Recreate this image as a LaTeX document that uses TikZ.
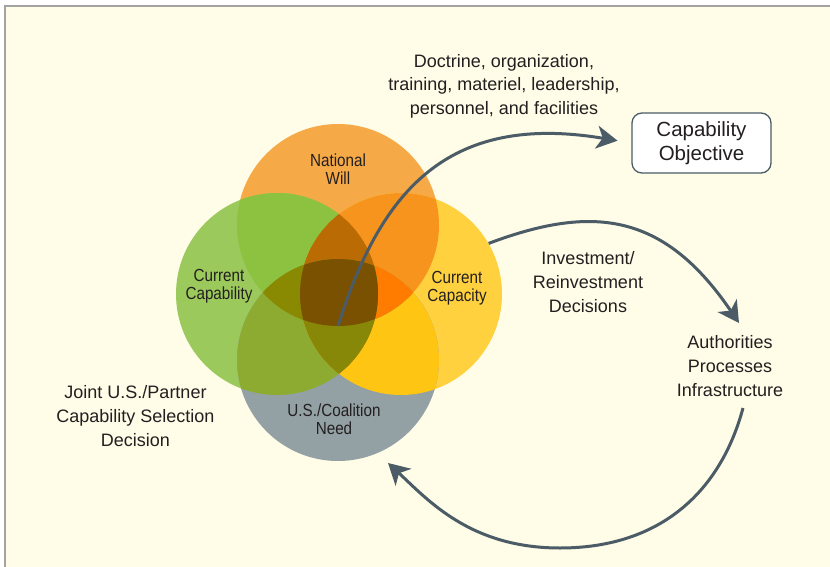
\documentclass[tikz,border=0pt]{standalone}
\usepackage{fontspec}
\setmainfont{Liberation Sans}
\newfontfamily\condfont[FakeStretch=0.87]{Liberation Sans}
\usetikzlibrary{arrows.meta}
\definecolor{bgc}{HTML}{FFFCE8}
\definecolor{bordc}{HTML}{A3A3A3}
\definecolor{arrc}{HTML}{4B5C66}
\definecolor{txtc}{HTML}{231F20}
\definecolor{cT}{HTML}{F6A947}
\definecolor{cL}{HTML}{9CC95B}
\definecolor{cR}{HTML}{FFD13F}
\definecolor{cB}{HTML}{93A1A4}
\definecolor{cTL}{HTML}{8CC23F}
\definecolor{cTR}{HTML}{F7941E}
\definecolor{cLB}{HTML}{8DAB31}
\definecolor{cRB}{HTML}{FFC513}
\definecolor{cLR}{HTML}{B06A05}
\definecolor{cTB}{HTML}{9A7A20}
\definecolor{cTLR}{HTML}{BA6B04}
\definecolor{cTRB}{HTML}{FF7C00}
\definecolor{cTLB}{HTML}{8A8A02}
\definecolor{cLRB}{HTML}{878807}
\definecolor{cAll}{HTML}{7A5100}
\begin{document}
\begin{tikzpicture}[x=1pt,y=-1pt,
  txt/.style={text=txtc, align=center, font=\fontsize{18}{23.6}\selectfont, inner sep=0pt},
  clabel/.style={text=txtc, align=center, font=\condfont\fontsize{17.5}{18.2}\selectfont, inner sep=0pt},
  venn/.style={circle, minimum size=202pt, inner sep=0pt, draw=none},
  arr/.style={draw=arrc, line width=3pt, -{Stealth[length=21pt,width=23pt,inset=6pt]}},
  objbox/.style={draw=arrc, fill=white, rounded corners=10pt, line width=1.3pt,
     minimum width=139pt, minimum height=60pt, text=txtc, align=center,
     font=\fontsize{20.5}{24}\selectfont}]
\useasboundingbox (0,0) rectangle (830,567);
\fill[white] (0,0) rectangle (830,567);
\fill[bgc] (5,6) rectangle (830,567);
\draw[bordc, line width=2pt] (5,567) -- (5,6) -- (830,6);

% circles (named)
\node[venn] (will)  at (338,225) {};
\node[venn] (capab) at (277,294) {};
\node[venn] (capac) at (401,294) {};
\node[venn] (need)  at (338,360) {};

\def\pT{(338,225) circle[radius=101]}
\def\pL{(277,294) circle[radius=101]}
\def\pR{(401,294) circle[radius=101]}
\def\pB{(338,360) circle[radius=101]}

\fill[cT] \pT; \fill[cL] \pL; \fill[cR] \pR; \fill[cB] \pB;
% pairs
\begin{scope}\clip \pT; \fill[cTL] \pL; \end{scope}
\begin{scope}\clip \pT; \fill[cTR] \pR; \end{scope}
\begin{scope}\clip \pL; \fill[cLB] \pB; \end{scope}
\begin{scope}\clip \pR; \fill[cRB] \pB; \end{scope}
\begin{scope}\clip \pL; \fill[cLR] \pR; \end{scope}
\begin{scope}\clip \pT; \fill[cTB] \pB; \end{scope}
% triples
\begin{scope}\clip \pT; \clip \pL; \fill[cTLR] \pR; \end{scope}
\begin{scope}\clip \pT; \clip \pR; \fill[cTRB] \pB; \end{scope}
\begin{scope}\clip \pT; \clip \pL; \fill[cTLB] \pB; \end{scope}
\begin{scope}\clip \pL; \clip \pR; \fill[cLRB] \pB; \end{scope}
% all four
\begin{scope}\clip \pT; \clip \pL; \clip \pR; \fill[cAll] \pB; \end{scope}

% circle labels
\node[clabel] (lwill)  at (338,169) {National\\Will};
\node[clabel] (lcapab) at (219,286) {Current\\Capability};
\node[clabel] (lcapac) at (457,288) {Current\\Capacity};
\node[clabel] (lneed)  at (334,419) {U.S./Coalition\\Need};

% other texts
\node[txt] (dotml) at (504,86) {Doctrine, organization,\\training, materiel, leadership,\\personnel, and facilities};
\node[objbox] (obj) at (701.5,143) {Capability\\Objective};
\node[txt] (invest) at (588,282) {Investment/\\Reinvestment\\Decisions};
\node[txt] (auth) at (730,366) {Authorities\\Processes\\Infrastructure};
\node[txt] (joint) at (135.5,416) {Joint U.S./Partner\\Capability Selection\\Decision};

% connectors
\coordinate (hub) at (338,326);
\coordinate (t2) at (739,323);
\coordinate (s3) at (743,408);
\coordinate (bot3) at (560,548);
\coordinate (t3) at (388,463);
\draw[arr, shorten >=14pt] (hub) .. controls (380,193) and (446,112) .. (obj.west);
\draw[arr] (capac.30) .. controls (591,205) and (663,211) .. (t2);
\draw[arr] (s3) .. controls (721,490) and (662,548) .. (bot3)
               .. controls (470,548) and (428,500) .. (t3);
\end{tikzpicture}
\end{document}
